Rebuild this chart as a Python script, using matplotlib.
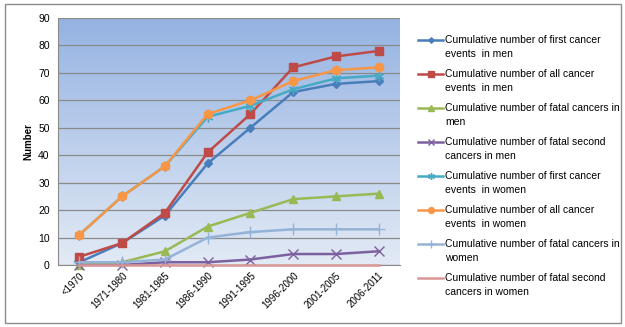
import matplotlib
matplotlib.use("Agg")
import matplotlib.pyplot as plt
import numpy as np
from matplotlib.patches import Rectangle
from matplotlib.legend_handler import HandlerLine2D

categories = ["<1970", "1971-1980", "1981-1985", "1986-1990", "1991-1995", "1996-2000", "2001-2005", "2006-2011"]
first_men = [1, 8, 18, 37, 50, 63, 66, 67]
all_men = [3, 8, 19, 41, 55, 72, 76, 78]
fatal_men = [0, 1, 5, 14, 19, 24, 25, 26]
fatal_second_men = [0, 0, 1, 1, 2, 4, 4, 5]
first_women = [11, 25, 36, 54, 58, 64, 68, 69]
all_women = [11, 25, 36, 55, 60, 67, 71, 72]
fatal_women = [1, 1, 2, 10, 12, 13, 13, 13]
fatal_second_women = [0, 0, 0, 0, 0, 0, 0, 0]

labels = [
    "Cumulative number of first cancer\nevents  in men",
    "Cumulative number of all cancer\nevents  in men",
    "Cumulative number of fatal cancers in\nmen",
    "Cumulative number of fatal second\ncancers in men",
    "Cumulative number of first cancer\nevents  in women",
    "Cumulative number of all cancer\nevents  in women",
    "Cumulative number of fatal cancers in\nwomen",
    "Cumulative number of fatal second\ncancers in women",
]

plt.rcParams['font.family'] = ['Liberation Sans', 'DejaVu Sans']


class UpHandler(HandlerLine2D):
    def create_artists(self, legend, orig_handle, xdescent, ydescent, width, height, fontsize, trans):
        return super().create_artists(legend, orig_handle, xdescent, ydescent - 10, width, height, fontsize, trans)


fig = plt.figure(figsize=(6.25, 3.27), dpi=100)
fig.patches.append(Rectangle((5/625, 4/327), 616/625, 319/327, transform=fig.transFigure,
                             fill=False, edgecolor='#8c8c8c', linewidth=1.0))
ax = fig.add_axes([58/625, 62/327, 342/625, 247/327])

x = np.arange(len(categories))
ax.set_xlim(-0.5, len(categories) - 0.5)
ax.set_ylim(0, 90)

# gradient background
grad = np.linspace(0, 1, 256).reshape(-1, 1)
top = np.array([0x95, 0xb3, 0xe2]) / 255
bot = np.array([0xe2, 0xea, 0xf5]) / 255
img = top[None, None, :] * (1 - grad[:, :, None]) + bot[None, None, :] * grad[:, :, None]
ax.imshow(img, extent=[-0.5, len(categories) - 0.5, 0, 90], aspect='auto', origin='upper', zorder=0)

ax.yaxis.grid(True, color='#8a8a8a', linewidth=0.9, zorder=1)
ax.set_axisbelow(True)
ax.set_yticks(range(0, 91, 10))

series = [
    (first_men, '#4a7ebb', 'D', 4),
    (all_men, '#be4b48', 's', 6),
    (fatal_men, '#98b954', '^', 6),
    (fatal_second_men, '#7d60a0', 'x', 7),
    (first_women, '#46aac5', (6, 2, 0), 7),
    (all_women, '#f79646', 'o', 6),
    (fatal_women, '#95b3d7', '+', 8),
    (fatal_second_women, '#d99694', None, 0),
]
handles = []
for i, (vals, col, mk, ms) in enumerate(series):
    h, = ax.plot(x, vals, color=col, linewidth=1.8, marker=mk, markersize=ms,
                 markeredgewidth=1.0, zorder=3 + i, label=labels[i], clip_on=False)
    handles.append(h)

ax.set_xticks(x)
ax.set_xticklabels(categories, rotation=45, ha='right', rotation_mode='anchor', fontsize=7)
ax.tick_params(axis='y', labelsize=7.5, length=0, pad=6)
ax.tick_params(axis='x', length=0, pad=4)
ax.set_ylabel("Number", fontsize=7, fontweight='bold', labelpad=3)

for s in ['top', 'right']:
    ax.spines[s].set_visible(False)
ax.spines['left'].set_color('#8a8a8a')
ax.spines['bottom'].set_color('#8a8a8a')

leg = fig.legend(handles=handles, labels=labels, loc='upper left', bbox_to_anchor=(414/625, 1 - 31/327),
                 frameon=False, fontsize=7.5, handlelength=2.4, handletextpad=0.2,
                 labelspacing=1.0, borderaxespad=0, markerscale=0.7,
                 handler_map={matplotlib.lines.Line2D: UpHandler()})
for t in leg.get_texts():
    t.set_linespacing(1.45)

fig.savefig("out.png", dpi=100)
